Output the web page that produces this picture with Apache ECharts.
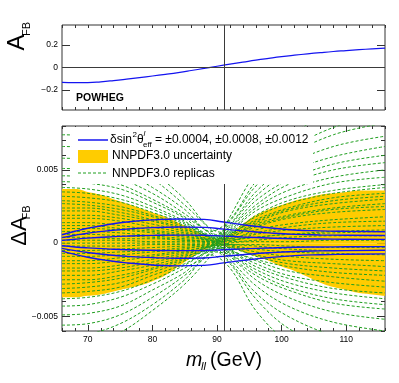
<!DOCTYPE html>
<html>
<head>
<meta charset="utf-8">
<script src="https://cdn.jsdelivr.net/npm/echarts@6/dist/echarts.min.js"></script>
<style>
  html, body { margin: 0; padding: 0; background: #fff; }
  #chart { width: 399px; height: 383px; }
</style>
</head>
<body>
<div id="chart"></div>
<script>
// top panel: POWHEG A_FB vs m_ll
const M_TOP = [66, 68, 70, 72, 74, 76, 78, 80, 82, 84, 86, 88, 90, 92, 94, 96, 98, 100, 102, 104, 106, 108, 110, 112, 114, 116]
const AFB_POWHEG = [-0.133, -0.136, -0.135, -0.128, -0.117, -0.104, -0.090, -0.076, -0.061, -0.045, -0.027, -0.008, 0.011,
  0.030, 0.048, 0.066, 0.082, 0.097, 0.110, 0.122, 0.133, 0.143, 0.151, 0.159, 0.167, 0.174]

// bottom panel values are ΔA_FB in units of 1e-4
const M_BAND = [66, 68, 70, 72, 74, 76, 78, 80, 82, 84, 86, 88, 90, 92, 94, 96, 98, 100, 102, 104, 106, 108, 110, 112, 114, 116]
const BAND_UP = [37, 37, 35, 33, 30, 27, 24, 21, 18, 14, 10, 6, 3, 6, 13, 19, 23, 26, 29, 31, 33, 34, 35, 36, 36, 36]
const BAND_LO = [-37, -37, -36, -35, -33, -31, -29, -26, -22, -16, -10, -5, -2, -3, -6, -9, -12, -16, -19, -23, -27, -30, -32, -34, -35, -36]

const M_BLUE = [66, 68, 70, 73, 76, 80, 84, 88, 91, 94, 98, 102, 106, 110, 116]
const DSIN_P12 = [5.7, 8.1, 10.2, 12.6, 14.4, 15.9, 16.5, 16.2, 14.4, 12.6, 10.5, 9.0, 8.4, 8.1, 7.8]
const DSIN_P08 = [3.8, 5.4, 6.8, 8.4, 9.6, 10.6, 11.0, 10.8, 9.6, 8.4, 7.0, 6.0, 5.6, 5.4, 5.2]
const DSIN_P04 = [1.9, 2.7, 3.4, 4.2, 4.8, 5.3, 5.5, 5.4, 4.8, 4.2, 3.5, 3.0, 2.8, 2.7, 2.6]
const DSIN_M04 = [-1.8, -2.6, -3.2, -3.9, -4.5, -4.9, -5.1, -5.0, -4.5, -3.9, -3.3, -2.8, -2.6, -2.5, -2.4]
const DSIN_M08 = [-3.6, -5.1, -6.4, -7.9, -9.0, -9.9, -10.3, -10.1, -9.0, -7.9, -6.6, -5.7, -5.3, -5.1, -4.9]
const DSIN_M12 = [-5.4, -7.7, -9.6, -11.8, -13.5, -14.9, -15.5, -15.2, -13.5, -11.8, -9.9, -8.5, -7.9, -7.6, -7.3]

const M_REP = [66, 70, 75, 80, 85, 89, 92, 96, 101, 108, 116]
const REPLICAS = [
  [74, 73, 64, 49, 30, 10, 7, 19, 29, 36, 40],
  [66, 65, 57, 44, 26, 9, -4, -11, -16, -20, -22],
  [58, 57, 50, 38, 23, 8, 16, 42, 63, 79, 88],
  [51, 50, 44, 34, 20, 7, 2, 6, 9, 11, 12],
  [46, 45, 40, 30, 18, 6, -8, -22, -32, -41, -45],
  [42, 41, 37, 28, 17, 5, 11, 29, 43, 54, 60],
  [38, 37, 33, 25, 15, 5, 5, 13, 19, 24, 27],
  [35, 34, 30, 23, 14, 5, -1, -4, -6, -7, -8],
  [32, 31, 28, 21, 13, 4, 13, 35, 53, 66, 73],
  [29, 28, 25, 19, 12, 4, -5, -14, -22, -27, -30],
  [27, 26, 23, 18, 11, 4, 3, 9, 13, 16, 18],
  [24, 24, 21, 16, 10, 3, 9, 24, 36, 45, 50],
  [22, 22, 19, 15, 9, 3, -11, -29, -43, -54, -60],
  [19, 19, 17, 13, 8, 2, 1, 2, 4, 5, 5],
  [17, 17, 15, 11, 7, 2, 6, 16, 24, 31, 34],
  [14, 14, 12, 9, 6, 2, -3, -8, -12, -14, -16],
  [12, 12, 10, 8, 5, 2, 15, 39, 59, 74, 82],
  [10, 10, 9, 7, 4, 1, -7, -18, -27, -34, -38],
  [8, 8, 7, 5, 3, 1, 4, 11, 17, 21, 23],
  [6, 6, 5, 4, 2, 1, -1, -1, -2, -3, -3],
  [4, 4, 3, 3, 2, 1, 8, 22, 32, 41, 45],
  [2, 2, 2, 1, 1, 0, -9, -25, -37, -47, -52],
  [0, 0, 0, 0, 0, 0, 2, 4, 6, 8, 9],
  [-2, -2, -2, -1, -1, 0, 5, 14, 22, 27, 30],
  [-5, -5, -4, -3, -2, -1, -2, -6, -9, -11, -12],
  [-7, -7, -6, -5, -3, -1, 12, 32, 48, 59, 66],
  [-9, -9, -8, -6, -4, -1, -5, -12, -19, -23, -26],
  [-12, -12, -10, -8, -5, -2, 3, 7, 11, 14, 15],
  [-14, -14, -12, -9, -6, -2, -13, -34, -50, -63, -70],
  [-17, -17, -15, -11, -7, -2, 7, 18, 27, 34, 38],
  [-19, -19, -17, -13, -8, -2, -1, -2, -4, -5, -5],
  [-22, -22, -19, -15, -9, -3, 10, 26, 40, 50, 55],
  [-25, -25, -22, -17, -10, -3, -6, -16, -24, -31, -34],
  [-28, -27, -24, -18, -11, -4, 0, 1, 1, 2, 2],
  [-31, -30, -27, -20, -12, -4, -14, -38, -58, -72, -80],
  [-34, -33, -30, -22, -14, -4, 5, 12, 18, 23, 25],
  [-38, -37, -33, -25, -15, -5, -3, -9, -14, -17, -19],
  [-43, -42, -37, -28, -17, -6, 18, 48, 72, 90, 100],
  [-49, -48, -43, -32, -20, -6, -8, -20, -30, -38, -42],
  [-56, -55, -49, -37, -22, -7, 1, 4, 6, 7, 8],
  [-63, -62, -55, -42, -25, -8, -17, -46, -68, -86, -95],
  [-70, -69, -61, -46, -28, -9, 6, 15, 23, 29, 32],
]

const X_MAJOR = [70, 80, 90, 100, 110]
const Y_TOP_MAJOR = [-0.2, 0, 0.2]
const Y_BOT_MAJOR = [-50, 0, 50]
const MZ = 91.1876

const FONT = '"Liberation Sans", Arial, Helvetica, sans-serif'
const FRAME = '#333'
const BLUE = '#1414f0'
const GREEN = '#1f9e1f'
const YELLOW = '#ffcc00'

const pairs = (xs, ys) => xs.map((x, i) => [x, ys[i]])
const minus = s => s.replace('-', '\u2212')

function axis(gridIndex, position, min, max, tickLen, extra = {}) {
  return {
    type: 'value', gridIndex, position, min, max,
    axisLine: { show: false, onZero: false },
    splitLine: { show: false },
    axisTick: { show: true, inside: true, length: tickLen, lineStyle: { color: FRAME, width: 1 }, ...(extra.tick || {}) },
    axisLabel: extra.label ? { show: true, fontSize: 8.5, fontFamily: FONT, color: '#000', margin: 4, ...extra.label } : { show: false },
    ...(extra.interval ? { interval: extra.interval } : {}),
  }
}

const xAxis = [
  axis(0, 'bottom', 66, 116, 3, { interval: 2 }),
  axis(0, 'top', 66, 116, 3, { interval: 2 }),
  axis(1, 'bottom', 66, 116, 6, { tick: { customValues: X_MAJOR }, label: { customValues: X_MAJOR } }),
  axis(1, 'bottom', 66, 116, 3, { interval: 2 }),
  axis(1, 'top', 66, 116, 6, { tick: { customValues: X_MAJOR } }),
  axis(1, 'top', 66, 116, 3, { interval: 2 }),
]

const yAxis = [
  axis(0, 'left', -0.38, 0.38, 8, {
    tick: { customValues: Y_TOP_MAJOR },
    label: { customValues: Y_TOP_MAJOR, formatter: v => v === 0 ? '0' : minus(v.toFixed(1)) },
  }),
  axis(0, 'right', -0.38, 0.38, 8, { tick: { customValues: Y_TOP_MAJOR } }),
  axis(1, 'left', -60, 80, 8, {
    tick: { customValues: Y_BOT_MAJOR },
    label: { customValues: Y_BOT_MAJOR, formatter: v => v === 0 ? '0' : minus((v * 1e-4).toFixed(3)) },
  }),
  axis(1, 'left', -60, 80, 4, { interval: 10 }),
  axis(1, 'right', -60, 80, 8, { tick: { customValues: Y_BOT_MAJOR } }),
  axis(1, 'right', -60, 80, 4, { interval: 10 }),
]

const refLine = data => ({
  silent: true, symbol: 'none', animation: false,
  label: { show: false },
  lineStyle: { color: '#3a3a3a', width: 1, type: 'solid' },
  data,
})

// the band edges straddle zero, so two areas filled to the zero line make the band
const bandEdge = edge => ({
  type: 'line', xAxisIndex: 2, yAxisIndex: 2, data: pairs(M_BAND, edge), smooth: true, symbol: 'none',
  lineStyle: { opacity: 0 }, areaStyle: { color: YELLOW, opacity: 1, origin: 0 }, z: 1, silent: true,
})

const series = [
  {
    type: 'line', xAxisIndex: 0, yAxisIndex: 0, data: pairs(M_TOP, AFB_POWHEG),
    smooth: true, symbol: 'none', lineStyle: { color: BLUE, width: 1.2 }, z: 3,
    markLine: refLine([{ xAxis: MZ }, { yAxis: 0 }]),
  },
  bandEdge(BAND_UP),
  bandEdge(BAND_LO),
  ...REPLICAS.map(r => ({
    type: 'line', xAxisIndex: 2, yAxisIndex: 2, data: pairs(M_REP, r), smooth: 0.35, symbol: 'none',
    lineStyle: { color: GREEN, width: 1, type: [3, 2] }, z: 2, silent: true,
  })),
  ...[DSIN_P12, DSIN_P08, DSIN_P04, DSIN_M04, DSIN_M08, DSIN_M12].map((d, i) => ({
    type: 'line', xAxisIndex: 2, yAxisIndex: 2, data: pairs(M_BLUE, d), smooth: true, symbol: 'none',
    lineStyle: { color: BLUE, width: 1.4 }, z: 3,
    markLine: i === 0 ? refLine([{ xAxis: MZ }]) : undefined,
  })),
]

const txt = (text, x, y, size, more = {}) => ({
  type: 'text', x, y, z: 101,
  style: { text, fill: '#000', fontSize: size, fontFamily: FONT, align: 'left', verticalAlign: 'middle', ...more },
})

const graphic = [
  // legend
  { type: 'rect', shape: { x: 72, y: 127, width: 241, height: 57 }, style: { fill: '#fff' }, z: 100 },
  { type: 'line', shape: { x1: 78, y1: 140, x2: 108, y2: 140 }, style: { stroke: BLUE, lineWidth: 1.5 }, z: 101 },
  { type: 'rect', shape: { x: 78, y: 150, width: 30, height: 13 }, style: { fill: YELLOW }, z: 101 },
  { type: 'line', shape: { x1: 78, y1: 173, x2: 108, y2: 173 }, style: { stroke: GREEN, lineWidth: 1, lineDash: [3, 2] }, z: 101 },
  txt('\u03b4sin', 110, 140, 12),
  txt('2', 132.5, 135, 8),
  txt('\u03b8', 137, 140, 12),
  txt('l', 143.5, 134, 8, { fontStyle: 'italic' }),
  txt('eff', 143, 145, 8),
  txt('= \u00b10.0004, \u00b10.0008, \u00b10.0012', 155, 140, 12),
  txt('NNPDF3.0 uncertainty', 112, 156, 12),
  txt('NNPDF3.0 replicas', 112, 174, 12),
  // labels
  txt('POWHEG', 76, 98, 10.5, { fontWeight: 'bold' }),
  { ...txt('A', 17.5, 42.5, 24, { align: 'center' }), rotation: Math.PI / 2 },
  { ...txt('FB', 27, 29, 11, { align: 'center' }), rotation: Math.PI / 2 },
  { ...txt('\u0394A', 19.5, 231, 22, { align: 'center' }), rotation: Math.PI / 2 },
  { ...txt('FB', 27, 212.5, 11, { align: 'center' }), rotation: Math.PI / 2 },
  txt('m', 186, 361, 19.5, { fontStyle: 'italic' }),
  txt('ll', 201, 367, 11, { fontStyle: 'italic' }),
  txt('(GeV)', 210, 361, 19.5),
]

const chart = echarts.init(document.getElementById('chart'))
chart.setOption({
  animation: false,
  grid: [
    { left: 62, top: 25, width: 323, height: 85, show: true, borderColor: FRAME, borderWidth: 1 },
    { left: 62, top: 126, width: 323, height: 205, show: true, borderColor: FRAME, borderWidth: 1 },
  ],
  xAxis,
  yAxis,
  series,
  graphic,
})
</script>
</body>
</html>
